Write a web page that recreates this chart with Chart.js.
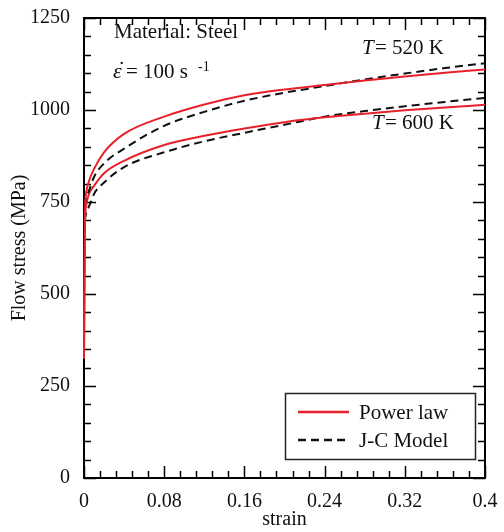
<!DOCTYPE html>
<html>
<head>
<meta charset="utf-8">
<script src="https://cdn.jsdelivr.net/npm/chart.js@4"></script>
<style>
  body { margin: 0; background: #fff; }
  #wrap { width: 504px; height: 532px; }
</style>
</head>
<body>
<div id="wrap"><canvas id="flow"></canvas></div>
<script>
const strain = [0, 0.001, 0.002, 0.005, 0.01, 0.02, 0.04, 0.08, 0.12, 0.16, 0.2, 0.24, 0.28, 0.32, 0.36, 0.4];
const power520 = [325, 720, 772, 807, 840, 885, 935, 982, 1015, 1040, 1056, 1068, 1080, 1091, 1101, 1110];
const jc520 = [740, 748, 760, 781, 818, 855, 895, 957, 995, 1025, 1047, 1065, 1083, 1099, 1114, 1127];
const power600 = [325, 690, 738, 772, 794, 828, 862, 905, 930, 950, 967, 980, 990, 999, 1007, 1014];
const jc600 = [700, 706, 718, 738, 772, 803, 845, 885, 915, 938, 960, 982, 997, 1010, 1022, 1033];

const xTicks = [0, 0.08, 0.16, 0.24, 0.32, 0.4];
const yTicks = [0, 250, 500, 750, 1000, 1250];

const serif = "'Liberation Serif', 'DejaVu Serif', serif";

function pts(ys) {
  return strain.map((x, i) => ({ x: x, y: ys[i] }));
}

function line(label, ys, color, dash) {
  return {
    label: label,
    data: pts(ys),
    borderColor: color,
    borderWidth: 2,
    borderDash: dash,
    pointRadius: 0,
    fill: false,
    clip: 4,
    cubicInterpolationMode: "monotone"
  };
}

// box with inward ticks on all four sides, then texts + legend
const frame = {
  id: "frame",
  beforeDatasetsDraw(chart) {
    const ctx = chart.ctx;
    const a = chart.chartArea;
    const xs = chart.scales.x, ys = chart.scales.y;
    ctx.save();
    ctx.strokeStyle = "#000";
    ctx.lineWidth = 2;
    ctx.strokeRect(a.left, a.top, a.right - a.left, a.bottom - a.top);
    ctx.lineWidth = 1.5;
    ctx.beginPath();
    for (let v = 0; v <= 0.4001; v += 0.016) {
      const major = Math.abs(v / 0.08 - Math.round(v / 0.08)) < 0.01;
      const len = major ? 12 : 7;
      const px = Math.round(xs.getPixelForValue(v)) + 0.5;
      ctx.moveTo(px, a.bottom); ctx.lineTo(px, a.bottom - len);
      ctx.moveTo(px, a.top); ctx.lineTo(px, a.top + len);
    }
    for (let v = 0; v <= 1250; v += 50) {
      const len = v % 250 === 0 ? 12 : 7;
      const py = Math.round(ys.getPixelForValue(v)) + 0.5;
      ctx.moveTo(a.left, py); ctx.lineTo(a.left + len, py);
      ctx.moveTo(a.right, py); ctx.lineTo(a.right - len, py);
    }
    ctx.stroke();
    ctx.restore();
  },
  afterDatasetsDraw(chart) {
    const ctx = chart.ctx;
    ctx.save();
    ctx.fillStyle = "#111";
    ctx.textBaseline = "alphabetic";
    ctx.font = "21px " + serif;
    ctx.fillText("Material: Steel", 114, 38);
    ctx.font = "italic 22px " + serif;
    ctx.fillText("\u03B5", 113, 78);
    ctx.font = "22px " + serif;
    ctx.fillText("\u02D9", 118, 76);
    ctx.font = "21px " + serif;
    ctx.fillText("= 100 s", 126, 78);
    ctx.font = "14px " + serif;
    ctx.fillText("-1", 198, 71);

    ctx.font = "italic 21px " + serif;
    ctx.fillText("T", 362, 54);
    ctx.font = "21px " + serif;
    ctx.fillText("= 520 K", 375, 54);
    ctx.font = "italic 21px " + serif;
    ctx.fillText("T", 372, 129);
    ctx.font = "21px " + serif;
    ctx.fillText("= 600 K", 385, 129);

    // legend box
    ctx.lineWidth = 1.5;
    ctx.strokeStyle = "#222";
    ctx.strokeRect(285.5, 393.5, 190, 66);
    const items = [chart.data.datasets[0], chart.data.datasets[1]];
    const rowY = [412, 440];
    items.forEach((ds, i) => {
      ctx.beginPath();
      ctx.strokeStyle = ds.borderColor;
      ctx.lineWidth = 2.5;
      ctx.setLineDash(ds.borderDash || []);
      ctx.moveTo(298, rowY[i]); ctx.lineTo(349, rowY[i]);
      ctx.stroke();
      ctx.setLineDash([]);
      ctx.fillStyle = "#111";
      ctx.font = "21px " + serif;
      ctx.textBaseline = "middle";
      ctx.fillText(ds.label, 359, rowY[i] + 1);
    });
    ctx.restore();
  }
};

new Chart(document.getElementById("flow"), {
  type: "line",
  data: {
    datasets: [
      line("Power law", power520, "#e8202a", []),
      line("J-C Model", jc520, "#111", [8, 5]),
      line("Power law 600", power600, "#e8202a", []),
      line("J-C Model 600", jc600, "#111", [8, 5])
    ]
  },
  options: {
    responsive: true,
    maintainAspectRatio: false,
    animation: false,
    layout: { padding: { left: 8, right: 19, top: 12, bottom: 0 } },
    plugins: { legend: { display: false }, tooltip: { enabled: false } },
    scales: {
      x: {
        type: "linear",
        min: 0, max: 0.4,
        afterBuildTicks: s => { s.ticks = xTicks.map(v => ({ value: v })); },
        afterFit: s => { s.height = 54; },
        grid: { display: false },
        border: { display: false },
        ticks: {
          color: "#111", padding: 4,
          font: { family: serif, size: 20 },
          callback: v => String(Math.round(v * 100) / 100)
        },
        title: {
          display: true, text: "strain", color: "#111",
          font: { family: serif, size: 20 }, padding: { top: 0, bottom: 0 }
        }
      },
      y: {
        min: 0, max: 1250,
        afterBuildTicks: s => { s.ticks = yTicks.map(v => ({ value: v })); },
        afterFit: s => { s.width = 76; },
        grid: { display: false },
        border: { display: false },
        ticks: {
          color: "#111", padding: 6,
          font: { family: serif, size: 20 },
          callback: v => String(v)
        },
        title: {
          display: true, text: "Flow stress (MPa)", color: "#111",
          font: { family: serif, size: 20 }, padding: { top: 0, bottom: 4 }
        }
      }
    }
  },
  plugins: [frame]
});
</script>
</body>
</html>
